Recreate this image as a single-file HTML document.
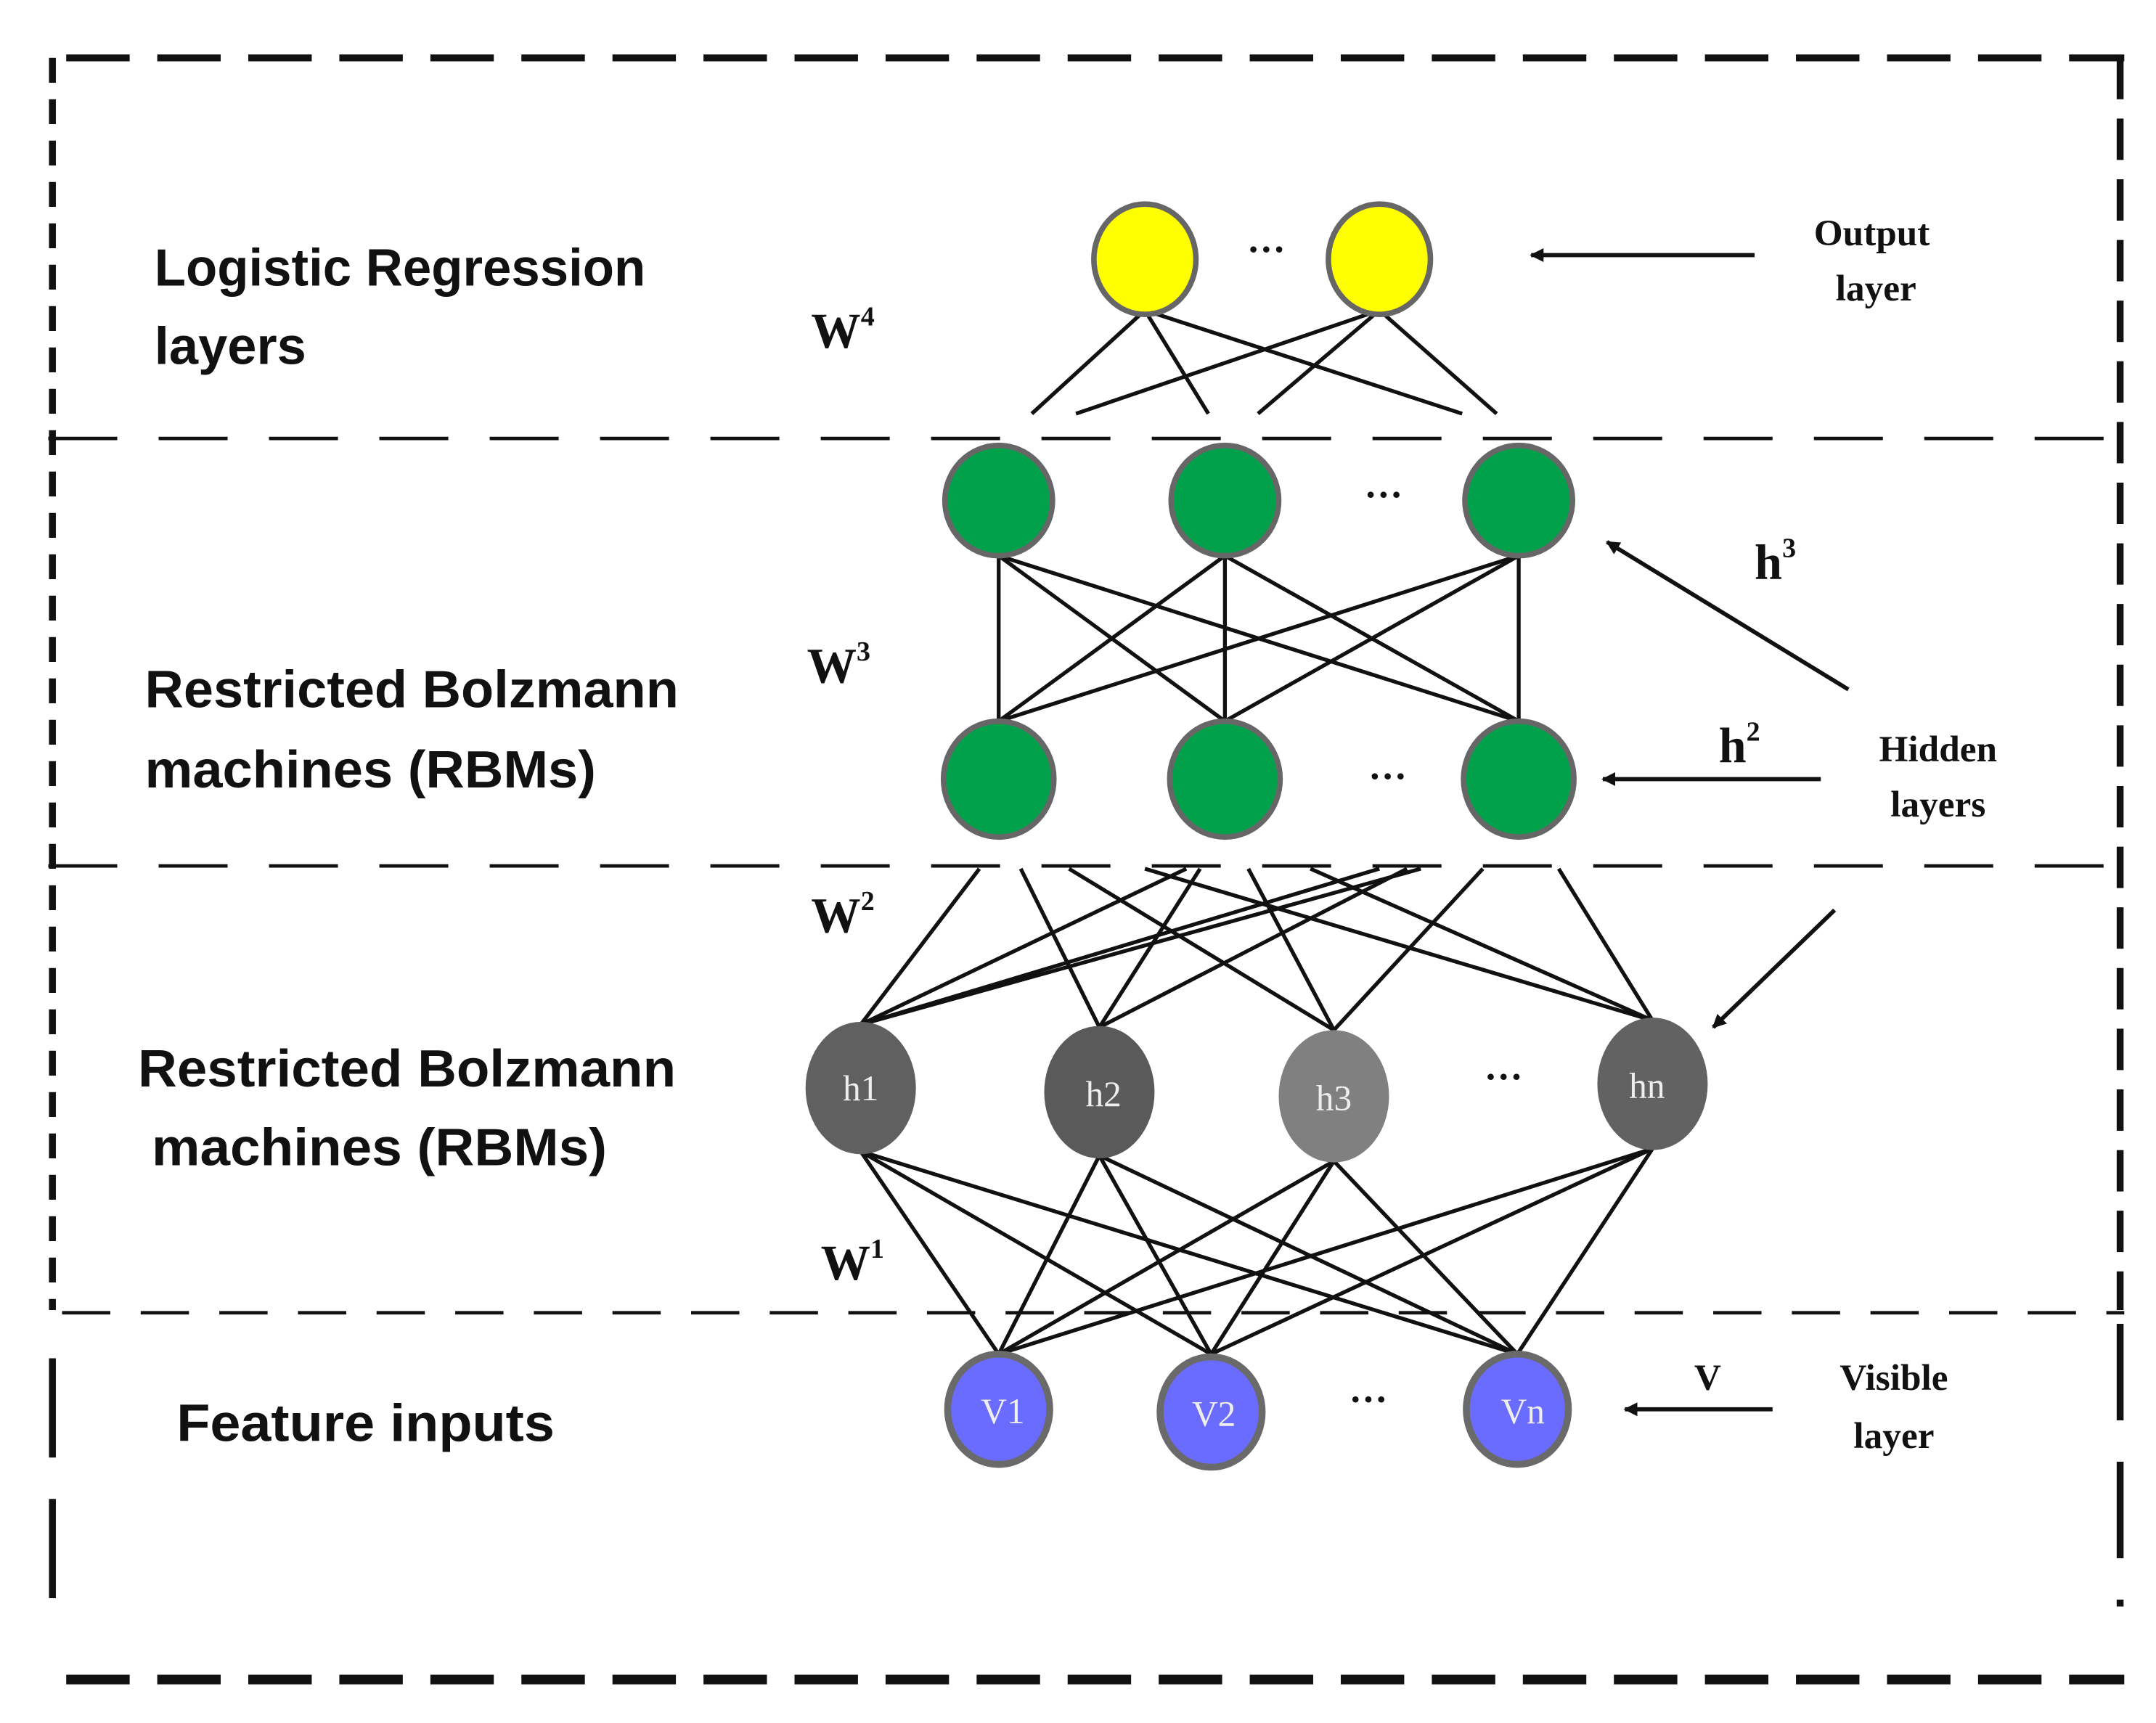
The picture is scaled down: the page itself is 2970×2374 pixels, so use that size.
<!DOCTYPE html>
<html><head><meta charset="utf-8"><style>
html,body{margin:0;padding:0;background:#fff;}
svg{display:block;}
.s{font-family:"Liberation Sans",sans-serif;font-size:38px;font-weight:bold;fill:#111;}
.w{font-family:"Liberation Serif",serif;font-weight:bold;font-size:36px;fill:#111;}
.r{font-family:"Liberation Serif",serif;font-weight:bold;font-size:27px;fill:#111;text-anchor:middle;}
.n{font-family:"Liberation Serif",serif;font-size:26px;fill:#eee;text-anchor:middle;}
.d{font-family:"Liberation Serif",serif;font-weight:bold;font-size:28px;fill:#111;text-anchor:middle;}
</style></head><body>
<svg width="2970" height="2374" viewBox="0 0 1563 1249.5" preserveAspectRatio="none" xmlns="http://www.w3.org/2000/svg">
<defs><marker id="a" markerWidth="10" markerHeight="10" refX="9" refY="5" orient="auto" markerUnits="userSpaceOnUse"><path d="M0,0 L10,5 L0,10 z" fill="#111"/></marker></defs>
<g stroke="#111" fill="none">
<line x1="48" y1="42" x2="1540" y2="42" stroke-width="5" stroke-dasharray="46,20"/>
<line x1="38" y1="42" x2="38" y2="950" stroke-width="5" stroke-dasharray="18,12"/>
<line x1="38" y1="985" x2="38" y2="1182" stroke-width="5" stroke-dasharray="72,30"/>
<line x1="1537" y1="42" x2="1537" y2="950" stroke-width="5" stroke-dasharray="30,14"/>
<line x1="1537" y1="960" x2="1537" y2="1165" stroke-width="5" stroke-dasharray="70,30"/>
<line x1="48" y1="1218" x2="1540" y2="1218" stroke-width="7" stroke-dasharray="46,20"/>
<line x1="35" y1="318" x2="1540" y2="318" stroke-width="2.5" stroke-dasharray="50,30"/>
<line x1="35" y1="628" x2="1540" y2="628" stroke-width="2.5" stroke-dasharray="50,30"/>
<line x1="45" y1="952" x2="1540" y2="952" stroke-width="2.5" stroke-dasharray="35,22"/>
</g>
<g stroke="#111" stroke-width="2.8">
<line x1="830" y1="225" x2="748" y2="300"/><line x1="830" y1="225" x2="876" y2="300"/><line x1="830" y1="225" x2="1060" y2="300"/>
<line x1="1000" y1="225" x2="780" y2="300"/><line x1="1000" y1="225" x2="912" y2="300"/><line x1="1000" y1="225" x2="1085" y2="300"/>
<line x1="724" y1="403" x2="724" y2="523"/><line x1="724" y1="403" x2="888" y2="523"/><line x1="724" y1="403" x2="1101" y2="523"/>
<line x1="888" y1="403" x2="724" y2="523"/><line x1="888" y1="403" x2="888" y2="523"/><line x1="888" y1="403" x2="1101" y2="523"/>
<line x1="1101" y1="403" x2="724" y2="523"/><line x1="1101" y1="403" x2="888" y2="523"/><line x1="1101" y1="403" x2="1101" y2="523"/>
<line x1="624" y1="743" x2="710" y2="630"/><line x1="624" y1="743" x2="860" y2="630"/><line x1="624" y1="743" x2="1000" y2="630"/><line x1="624" y1="743" x2="1030" y2="630"/>
<line x1="797" y1="745" x2="740" y2="630"/><line x1="797" y1="745" x2="870" y2="630"/><line x1="797" y1="745" x2="1020" y2="630"/>
<line x1="967" y1="747" x2="775" y2="630"/><line x1="967" y1="747" x2="905" y2="630"/><line x1="967" y1="747" x2="1075" y2="630"/>
<line x1="1198" y1="740" x2="830" y2="630"/><line x1="1198" y1="740" x2="950" y2="630"/><line x1="1198" y1="740" x2="1130" y2="630"/>
<line x1="624" y1="835" x2="724" y2="982"/><line x1="624" y1="835" x2="878" y2="982"/><line x1="624" y1="835" x2="1100" y2="982"/>
<line x1="797" y1="838" x2="724" y2="982"/><line x1="797" y1="838" x2="878" y2="982"/><line x1="797" y1="838" x2="1100" y2="982"/>
<line x1="967" y1="842" x2="724" y2="982"/><line x1="967" y1="842" x2="878" y2="982"/><line x1="967" y1="842" x2="1100" y2="982"/>
<line x1="1198" y1="833" x2="724" y2="982"/><line x1="1198" y1="833" x2="878" y2="982"/><line x1="1198" y1="833" x2="1100" y2="982"/>
</g>
<g stroke="#666" stroke-width="4">
<ellipse cx="830" cy="188" rx="37" ry="40" fill="#ffff00"/><ellipse cx="1000" cy="188" rx="37" ry="40" fill="#ffff00"/>
<ellipse cx="724" cy="363" rx="39" ry="40" fill="#00a04b"/><ellipse cx="888" cy="363" rx="39" ry="40" fill="#00a04b"/><ellipse cx="1101" cy="363" rx="39" ry="40" fill="#00a04b"/>
<ellipse cx="724" cy="565" rx="40" ry="42" fill="#00a04b"/><ellipse cx="888" cy="565" rx="40" ry="42" fill="#00a04b"/><ellipse cx="1101" cy="565" rx="40" ry="42" fill="#00a04b"/>
</g>
<g stroke="none">
<ellipse cx="624" cy="789" rx="40" ry="48" fill="#606060"/><ellipse cx="797" cy="792" rx="40" ry="48" fill="#5a5a5a"/><ellipse cx="967" cy="795" rx="40" ry="48" fill="#808080"/><ellipse cx="1198" cy="786" rx="40" ry="48" fill="#626262"/>
</g>
<g stroke="#6a6a6a" stroke-width="5">
<ellipse cx="724" cy="1022" rx="37" ry="40" fill="#6a6cff"/><ellipse cx="878" cy="1024" rx="37" ry="40" fill="#6a6cff"/><ellipse cx="1100" cy="1022" rx="37" ry="40" fill="#6a6cff"/>
</g>
<text class="n" x="624" y="798">h1</text><text class="n" x="800" y="802">h2</text><text class="n" x="967" y="805">h3</text><text class="n" x="1194" y="796">hn</text>
<text class="n" x="727" y="1032">V1</text><text class="n" x="880" y="1034">V2</text><text class="n" x="1104" y="1032">Vn</text>
<g class="d"><text x="918" y="190">···</text><text x="1003" y="368">···</text><text x="1006" y="572">···</text><text x="1090" y="790">···</text><text x="992" y="1024">···</text></g>
<text class="s" x="112" y="207" textLength="356" lengthAdjust="spacingAndGlyphs">Logistic Regression</text><text class="s" x="112" y="264" textLength="110" lengthAdjust="spacingAndGlyphs">layers</text>
<text class="s" x="105" y="513" textLength="387" lengthAdjust="spacingAndGlyphs">Restricted Bolzmann</text><text class="s" x="105" y="571" textLength="327" lengthAdjust="spacingAndGlyphs">machines (RBMs)</text>
<text class="s" x="100" y="788" textLength="390" lengthAdjust="spacingAndGlyphs">Restricted Bolzmann</text><text class="s" x="110" y="845" textLength="330" lengthAdjust="spacingAndGlyphs">machines (RBMs)</text>
<text class="s" x="128" y="1045" textLength="274" lengthAdjust="spacingAndGlyphs">Feature inputs</text>
<text class="w" x="588" y="252">W<tspan font-size="20" dy="-16">4</tspan></text>
<text class="w" x="585" y="495">W<tspan font-size="20" dy="-16">3</tspan></text>
<text class="w" x="588" y="676">W<tspan font-size="20" dy="-16">2</tspan></text>
<text class="w" x="595" y="928">W<tspan font-size="20" dy="-16">1</tspan></text>
<text class="r" x="1357" y="178">Output</text><text class="r" x="1360" y="218">layer</text>
<text class="w" x="1272" y="420" font-size="34">h<tspan font-size="20" dy="-16">3</tspan></text>
<text class="w" x="1246" y="553" font-size="34">h<tspan font-size="20" dy="-16">2</tspan></text>
<text class="r" x="1405" y="552">Hidden</text><text class="r" x="1405" y="592">layers</text>
<text class="r" x="1238" y="1008">V</text>
<text class="r" x="1373" y="1008">Visible</text><text class="r" x="1373" y="1050">layer</text>
<g stroke="#111" stroke-width="3" marker-end="url(#a)">
<line x1="1272" y1="185" x2="1110" y2="185"/>
<line x1="1340" y1="500" x2="1165" y2="393"/>
<line x1="1320" y1="565" x2="1162" y2="565"/>
<line x1="1330" y1="660" x2="1242" y2="745"/>
<line x1="1285" y1="1022" x2="1178" y2="1022"/>
</g>
</svg>
</body></html>
